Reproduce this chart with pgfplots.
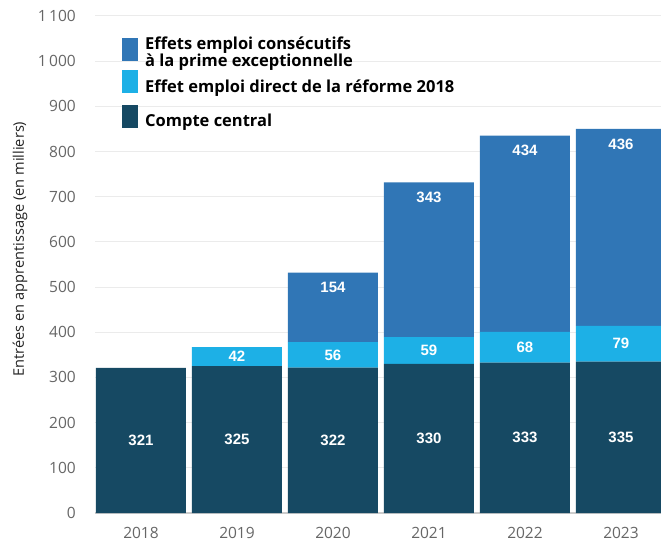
\documentclass[border=0pt]{standalone}
\usepackage{pgfplots}
\pgfplotsset{compat=1.18}
\usepackage{fontspec}
\setmainfont{Open Sans}
\newfontfamily\valfont{Liberation Sans}
\definecolor{cdark}{HTML}{164963}
\definecolor{clight}{HTML}{1DB0E6}
\definecolor{cmid}{HTML}{3076B6}
\definecolor{cgrid}{HTML}{EBEBEB}
\definecolor{cbase}{HTML}{CCCCCC}
\definecolor{ctick}{HTML}{666666}
\definecolor{clabel}{HTML}{222222}
\pgfplotsset{
  common/.style={
    at={(95pt,28pt)}, anchor=south west,
    scale only axis, width=566pt, height=497pt,
    xmin=-0.479, xmax=5.417, ymin=0, ymax=1100,
  },
  vlab/.style={only marks, mark=none, nodes near coords, point meta=explicit symbolic,
    nodes near coords style={font=\valfont\bfseries\fontsize{15}{15}\selectfont, text=white, anchor=center, inner sep=0pt}},
}
\begin{document}
\begin{tikzpicture}
\useasboundingbox (0,0) rectangle (661pt,541pt);
\begin{axis}[
  common,
  ybar stacked, bar width=0.9375,
  xtick={0,1,2,3,4,5}, xticklabels={2018,2019,2020,2021,2022,2023},
  ytick={0,100,...,1100},
  axis lines*=left,
  x axis line style={draw=cbase, line width=1.5pt, -},
  y axis line style={draw=none},
  major tick length=0pt,
  ymajorgrids, grid style={cgrid, line width=1pt},
  /pgf/number format/assume math mode=true,
  tick label style={font=\fontsize{15.5}{18}\selectfont, text=ctick, inner sep=0pt},
  yticklabel style={anchor=east, xshift=-19pt},
  xticklabel style={anchor=north, yshift=-14.5pt},
  yticklabels={0,100,200,300,400,500,600,700,800,900,1\,000,1\,100},
  ylabel={Entrées en apprentissage (en milliers)},
  every axis y label/.style={at={(rel axis cs:0,0.531)}, xshift=-75pt, rotate=90, anchor=center, font=\fontsize{14.6}{16}\selectfont, text=clabel},
  legend style={at={(rel axis cs:0,1)}, anchor=north west, xshift=27pt, yshift=-21pt,
    draw=none, fill=none, inner sep=0pt, column sep=7pt, row sep=-1.5pt,
    font=\bfseries\fontsize{16.5}{15}\selectfont, nodes={inner sep=0pt}, cells={anchor=west}},
  legend image code/.code={\fill[#1] (0pt,-6.5pt) rectangle (16pt,16.5pt);},
  reverse legend,
]
\addplot[fill=cdark, draw=none]
  coordinates {(0,321) (1,325) (2,322) (3,330) (4,333) (5,335)};
\addlegendentry{Compte central}
\addplot[fill=clight, draw=none,
  legend image code/.code={\fill[clight] (0pt,-6.5pt) rectangle (16pt,16.5pt); \path (0pt,-20pt);}]
  coordinates {(0,0) (1,42) (2,56) (3,59) (4,68) (5,79)};
\addlegendentry{Effet emploi direct de la réforme 2018}
\addplot[fill=cmid, draw=none]
  coordinates {(0,0) (1,0) (2,154) (3,343) (4,434) (5,436)};
\addlegendentry{\raisebox{3pt}{\begin{tabular}[b]{@{}l@{}}Effets emploi consécutifs\\à la prime exceptionnelle\end{tabular}}}
\end{axis}
\begin{axis}[common, hide axis]
\addplot[vlab] coordinates {(0,160.5) [321] (1,162.5) [325] (2,161) [322] (3,165) [330] (4,166.5) [333] (5,167.5) [335]};
\addplot[vlab] coordinates {(1,346) [42] (2,350) [56] (3,359.5) [59] (4,367) [68] (5,374.5) [79]};
\addplot[vlab] coordinates {(2,499) [154] (3,699) [343] (4,802) [434] (5,817) [436]};
\end{axis}
\end{tikzpicture}
\end{document}
